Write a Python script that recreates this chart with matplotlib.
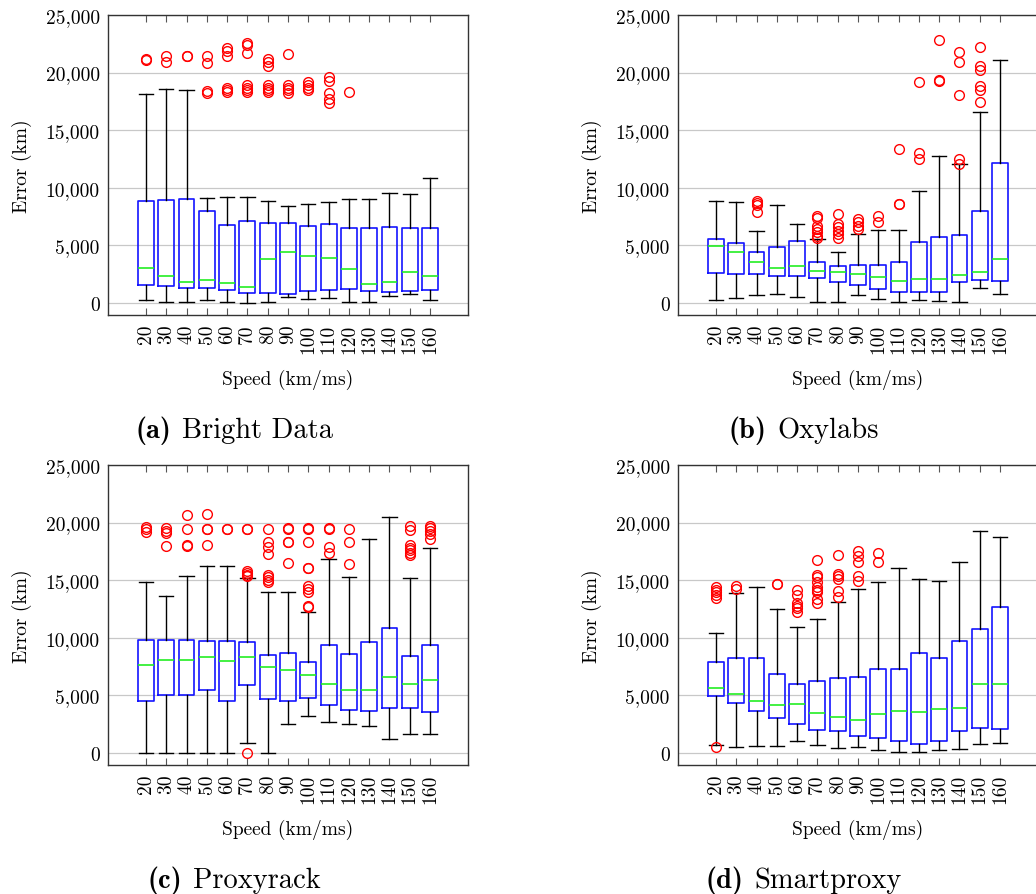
import matplotlib
matplotlib.use("Agg")
from matplotlib import pyplot as plt
from matplotlib.ticker import FuncFormatter

# speed bins (km/ms)
speeds = [20, 30, 40, 50, 60, 70, 80, 90, 100, 110, 120, 130, 140, 150, 160]

# (a) Bright Data
bd_lo = [230, 60, 60, 230, 120, 0, 120, 520, 350, 460, 60, 60, 610, 780, 260]
bd_q1 = [1560, 1500, 1330, 1270, 1100, 840, 870, 750, 1040, 1100, 1190, 1010, 980, 1040, 1130]
bd_med = [3070, 2370, 1850, 2000, 1710, 1420, 3820, 4400, 4050, 3880, 2950, 1620, 1850, 2720, 2370]
bd_q3 = [8880, 8970, 9000, 7960, 6800, 7090, 6940, 6920, 6680, 6860, 6480, 6480, 6630, 6540, 6480]
bd_hi = [18170, 18600, 18500, 9110, 9230, 9230, 8850, 8450, 8600, 8770, 9030, 9030, 9580, 9490, 10820]
bd_fl = [[21100, 21150], [21400, 20950], [21400, 21450], [21400, 20800, 18400, 18200],
         [22100, 21900, 21400, 18700, 18500, 18300], [22600, 22400, 21700, 18900, 18700, 18500, 18300],
         [21200, 20950, 20600, 18900, 18700, 18500, 18300], [21600, 18900, 18700, 18500, 18200],
         [19150, 18950, 18700, 18500], [19650, 19300, 18200, 17700, 17400], [18300], [], [], [], []]

# (b) Oxylabs
ox_lo = [290, 460, 690, 810, 520, 60, 120, 670, 320, 60, 290, 200, 60, 1330, 810]
ox_q1 = [2580, 2550, 2490, 2310, 2310, 2140, 1790, 1530, 1190, 930, 930, 930, 1790, 2000, 1940]
ox_med = [4950, 4400, 3560, 3070, 3180, 2810, 2660, 2520, 2230, 1880, 2050, 2080, 2400, 2660, 3790]
ox_q3 = [5560, 5180, 4400, 4860, 5350, 3560, 3210, 3330, 3270, 3590, 5320, 5760, 5900, 7960, 12120]
ox_hi = [8830, 8740, 6220, 8480, 6890, 5560, 4460, 5960, 6310, 6310, 9690, 12790, 12040, 16550, 21120]
ox_fl = [[], [], [8830, 8680, 8500, 7870], [], [],
         [7580, 7380, 6710, 6420, 6130, 5840, 5640], [7730, 6860, 6570, 6280, 5990, 5610],
         [7290, 7060, 6710, 6420], [7520, 7060], [13370, 8600, 8620],
         [19200, 13000, 12470], [22830, 19300, 19330], [21800, 20900, 18030, 12500, 12070],
         [22200, 20540, 20250, 18870, 18500, 17420], []]

# (c) Proxyrack
pr_lo = [0, 0, 0, 0, 0, 900, 0, 2550, 3180, 2720, 2550, 2370, 1190, 1620, 1680]
pr_q1 = [4490, 5060, 5060, 5470, 4490, 5870, 4690, 4490, 4750, 4200, 3760, 3650, 3880, 3910, 3530]
pr_med = [7670, 8100, 8070, 8300, 7960, 8330, 7440, 7230, 6800, 6020, 5440, 5500, 6630, 5990, 6370]
pr_q3 = [9840, 9810, 9840, 9750, 9750, 9610, 8540, 8650, 7870, 9400, 8590, 9660, 10820, 8450, 9400]
pr_hi = [14870, 13600, 15340, 16200, 16260, 15160, 14000, 14000, 12240, 16810, 15250, 18600, 20460, 15160, 17770]
pr_fl = [[19600, 19400, 19200], [19500, 19300, 19070, 18000], [20700, 19400, 18000, 18050],
         [20780, 19400, 19450, 18080], [19400, 19450],
         [19400, 19450, 15770, 15630, 15480, 15340, 0],
         [19470, 18350, 17880, 17270, 15480, 15250, 15020, 14810],
         [19470, 19500, 18290, 18320, 16520],
         [19470, 19500, 18320, 16030, 16060, 14530, 14240, 13950, 12790, 12640],
         [19470, 19500, 17910, 17390], [19400, 18350, 16400], [], [],
         [19680, 19330, 18060, 17820, 17590, 17360, 17190],
         [19730, 19530, 19300, 19010, 18580]]

# (d) Smartproxy
sp_lo = [690, 550, 640, 640, 1070, 720, 430, 550, 260, 120, 60, 260, 380, 780, 840]
sp_q1 = [4980, 4340, 3620, 3010, 2520, 2000, 1940, 1480, 1330, 1070, 780, 1070, 1880, 2140, 2080]
sp_med = [5670, 5150, 4490, 4200, 4250, 3500, 3100, 2890, 3360, 3650, 3530, 3790, 3940, 6020, 6020]
sp_q3 = [7930, 8220, 8250, 6860, 5960, 6280, 6480, 6630, 7290, 7290, 8680, 8220, 9690, 10760, 12700]
sp_hi = [10420, 13860, 14380, 12500, 10970, 11630, 13080, 14270, 14810, 16060, 15130, 14930, 16610, 19270, 18780]
sp_fl = [[490, 14380, 14180, 13950, 13720, 13430], [14530, 14240], [], [14670, 14700],
         [14150, 13720, 13020, 12790, 12560, 12270],
         [16750, 15450, 15250, 14870, 14380, 14180, 13950, 13370, 13050],
         [17220, 15540, 15340, 15100, 14090, 13570],
         [17560, 17130, 16610, 15390, 14960], [17330, 16610], [], [], [], [], [], []]

panels = [
    ("(a)", "Bright Data", bd_lo, bd_q1, bd_med, bd_q3, bd_hi, bd_fl),
    ("(b)", "Oxylabs", ox_lo, ox_q1, ox_med, ox_q3, ox_hi, ox_fl),
    ("(c)", "Proxyrack", pr_lo, pr_q1, pr_med, pr_q3, pr_hi, pr_fl),
    ("(d)", "Smartproxy", sp_lo, sp_q1, sp_med, sp_q3, sp_hi, sp_fl),
]

plt.rcParams["font.family"] = "cmr10"
plt.rcParams["axes.formatter.use_mathtext"] = True

W, H = 1036, 895
fig = plt.figure(figsize=(W / 100, H / 100), dpi=100)

# axes boxes in pixels: left, top
boxes = [(108, 16), (678, 16), (108, 466), (678, 466)]
aw, ah = 360, 300
captions = []

for (tag, name, lo, q1, med, q3, hi, fl), (left, top) in zip(panels, boxes):
    ax = fig.add_axes([left / W, (H - top - ah) / H, aw / W, ah / H])
    stats = []
    for i in range(len(speeds)):
        stats.append({"whislo": lo[i], "q1": q1[i], "med": med[i], "q3": q3[i],
                      "whishi": hi[i], "fliers": fl[i]})
    ax.bxp(stats, positions=range(1, len(speeds) + 1), widths=0.78,
           boxprops=dict(color="#1414ff", linewidth=1.2),
           medianprops=dict(color="#22ee22", linewidth=1.2),
           whiskerprops=dict(color="black", linewidth=1.0),
           capprops=dict(color="black", linewidth=1.0),
           capwidths=0.7,
           flierprops=dict(marker="o", markerfacecolor="none", markeredgecolor="red",
                           markersize=7, markeredgewidth=1.0))
    ax.set_xlim(-0.87, 16.87)
    ax.set_ylim(-1050, 25000)
    ax.set_yticks([0, 5000, 10000, 15000, 20000, 25000])
    ax.yaxis.set_major_formatter(FuncFormatter(lambda v, p: f"{int(v):,}"))
    ax.set_xticks(range(1, len(speeds) + 1))
    ax.set_xticklabels([str(s) for s in speeds], rotation=90)
    ax.grid(axis="y", color="#c8c8c8", linewidth=0.9)
    ax.set_axisbelow(True)
    ax.tick_params(axis="y", length=0, pad=6, labelsize=14)
    ax.tick_params(axis="x", direction="in", length=5, top=True, color="#555555",
                   pad=6, labelsize=14)
    for s in ax.spines.values():
        s.set_color("#333333")
        s.set_linewidth(1.0)
    ax.set_ylabel("Error (km)", fontsize=14, labelpad=10)
    ax.set_xlabel("Speed (km/ms)", fontsize=14, labelpad=12)

    # caption: bold tag + regular name, centred under the panel
    t1 = fig.text(0, 0, tag, fontsize=20.5, family="cmb10", ha="left", va="baseline")
    t2 = fig.text(0, 0, name, fontsize=20.5, ha="left", va="baseline")
    captions.append((t1, t2, left + 126, H - top - 422))

fig.canvas.draw()
r = fig.canvas.get_renderer()
for t1, t2, cx, by in captions:
    w1 = t1.get_window_extent(r).width
    w2 = t2.get_window_extent(r).width
    gap = 11
    x0 = cx - (w1 + gap + w2) / 2
    t1.set_position((x0 / W, by / H))
    t2.set_position(((x0 + w1 + gap) / W, by / H))

plt.savefig("out.png", dpi=100)
